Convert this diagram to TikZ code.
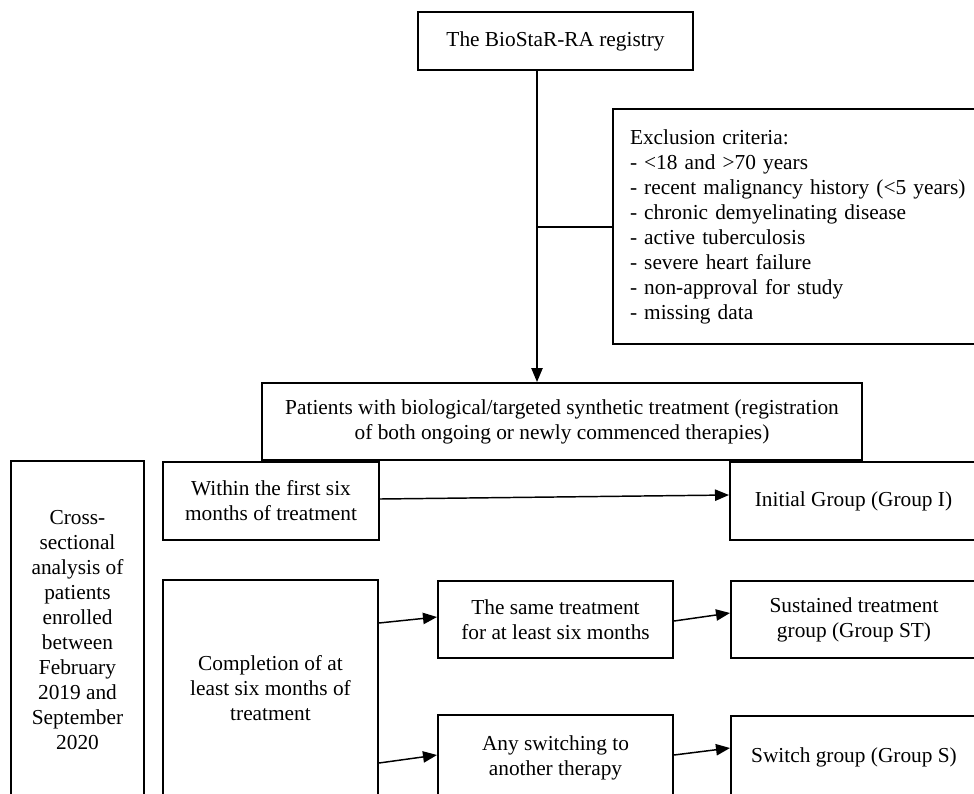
\documentclass[tikz,border=0pt]{standalone}
\usepackage{fontspec}
\setmainfont{Liberation Serif}
\usetikzlibrary{arrows.meta}
\begin{document}
\begin{tikzpicture}[x=0.75pt,y=-0.75pt,
  box/.style={draw, line width=1.5pt, inner sep=0pt, align=center, font=\fontsize{16}{18.75}\selectfont},
  arr/.style={line width=1.1pt, -{Triangle[length=10.5pt,width=8.5pt]}},
  conn/.style={line width=1.1pt}]
\clip (0,0) rectangle (974,793);
% boxes
\node[box, minimum width=206.25pt, minimum height=43.5pt] (top) at (555.5,41) {The BioStaR-RA registry};
\node[box, minimum width=282.75pt, minimum height=176.25pt, text width=257.25pt, align=left] (excl) at (801.5,226.5)
  {Exclusion criteria:\\
   - {<}18 and {>}70 years\\
   - recent malignancy history ({<}5 years)\\
   - chronic demyelinating disease\\
   - active tuberculosis\\
   - severe heart failure\\
   - non-approval for study\\
   - missing data};
\node[box, minimum width=450pt, minimum height=57.75pt] (patients) at (562,421.5)
  {Patients with biological/targeted synthetic treatment (registration\\of both ongoing or newly commenced therapies)};
\node[box, minimum width=162pt, minimum height=58.5pt] (within) at (271,501)
  {Within the first six\\months of treatment};
\node[box, minimum width=185.25pt, minimum height=58.5pt] (initial) at (853.5,501)
  {Initial Group (Group I)};
\node[box, minimum width=99.75pt, minimum height=254.25pt] (cross) at (77.5,630.5)
  {Cross-\\sectional\\analysis of\\patients\\enrolled\\between\\February\\2019 and\\September\\2020};
\node[box, minimum width=161.25pt, minimum height=162pt] (completion) at (270.5,688)
  {Completion of at\\least six months of\\treatment};
\node[box, minimum width=176.25pt, minimum height=57.75pt] (same) at (555.5,619.5)
  {The same treatment\\for at least six months};
\node[box, minimum width=176.25pt, minimum height=63.75pt] (any) at (555.5,757.5)
  {Any switching to\\another therapy};
\node[box, minimum width=184.5pt, minimum height=57.75pt] (sustained) at (854,619.5)
  {Sustained treatment\\group (Group ST)};
\node[box, minimum width=184.5pt, minimum height=61.5pt] (switch) at (854,757)
  {Switch group (Group S)};
% connectors
\coordinate (v1) at (537,70);
\coordinate (v2) at (537,227);
\draw[arr] (v1) -- (patients.north -| v1);
\draw[conn] (v2) -- (excl.west |- v2);
\draw[arr] ([yshift=1.5pt]within.east) -- ([yshift=4.5pt]initial.west);
\draw[arr] ([yshift=48.75pt]completion.east) -- ([yshift=1.875pt]same.west);
\draw[arr] ([yshift=-56.25pt]completion.east) -- ([yshift=1.875pt]any.west);
\draw[arr] ([yshift=-1.125pt]same.east) -- ([yshift=4.875pt]sustained.west);
\draw[arr] ([yshift=1.875pt]any.east) -- ([yshift=6.75pt]switch.west);
\end{tikzpicture}
\end{document}
